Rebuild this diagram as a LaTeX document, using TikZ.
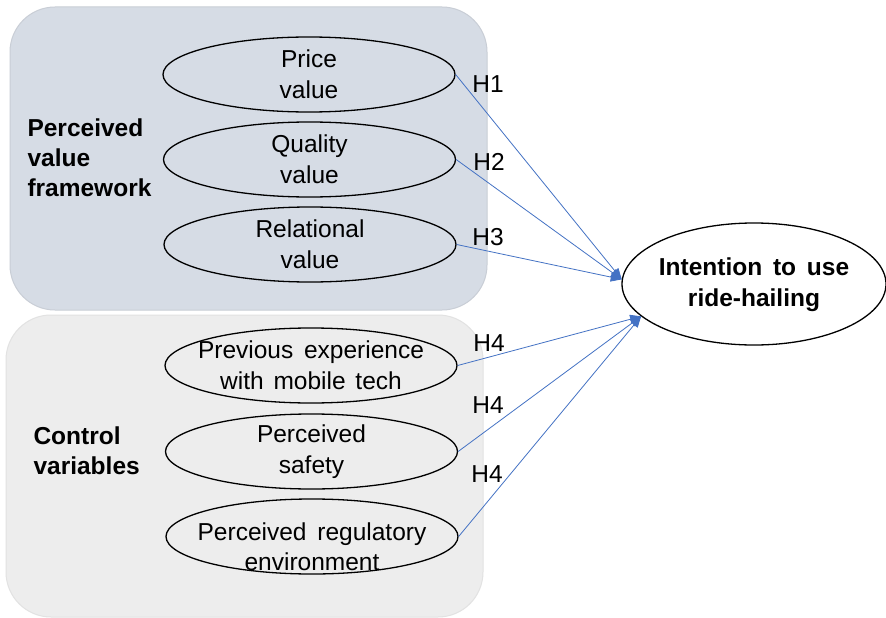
\documentclass[tikz,border=0pt]{standalone}
\usepackage{fontspec}
\setmainfont{Liberation Sans}
\usetikzlibrary{shapes.geometric,arrows.meta}
\definecolor{topfill}{HTML}{D6DCE5}
\definecolor{topdraw}{HTML}{C9CED6}
\definecolor{botfill}{HTML}{EDEDED}
\definecolor{botdraw}{HTML}{E2E2E2}
\definecolor{arrowblue}{HTML}{4472C4}
\begin{document}
\begin{tikzpicture}[x=1pt,y=-1pt,
  every node/.style={font=\fontsize{24.5pt}{31pt}\selectfont},
  groupbox/.style={rounded corners=45pt, line width=1pt},
  var/.style={ellipse, draw=black, line width=1.3pt, minimum width=292pt, minimum height=75pt, inner sep=0pt},
  vtext/.style={align=center, inner sep=0pt},
  outcome/.style={ellipse, draw=black, line width=1.3pt, minimum width=264pt, minimum height=122pt, inner sep=0pt},
  otext/.style={align=center, inner sep=0pt, font=\fontsize{24.5pt}{31pt}\selectfont\bfseries},
  grouplabel/.style={anchor=west, align=left, font=\fontsize{24.5pt}{30pt}\selectfont\bfseries},
  hyp/.style={draw=arrowblue, line width=0.8pt, -{Triangle[length=11pt,width=9pt]}},
  hlabel/.style={inner sep=0pt}
]
\useasboundingbox (0,0) rectangle (886,618);
\fill[white] (0,0) rectangle (886,618);
% group boxes
\draw[groupbox, fill=topfill, draw=topdraw] (10,7) rectangle (487,310);
\draw[groupbox, fill=botfill, draw=botdraw] (6,315) rectangle (483,617);
% group labels
\node[grouplabel] (pvf) at (24,158) {Perceived\\value\\framework};
\node[grouplabel] (cv) at (30,451) {Control\\variables};
% variables (shapes)
\node[var] (price) at (309,74.5) {};
\node[var] (quality) at (309.5,159.5) {};
\node[var] (relational) at (310,244.5) {};
\node[var] (previous) at (311,365.5) {};
\node[var] (safety) at (311.5,451.5) {};
\node[var] (regulatory) at (312,536.5) {};
% variable texts
\node[vtext] (price-t) at (price) {Price\\value};
\node[vtext] (quality-t) at (quality) {Quality\\value};
\node[vtext] (relational-t) at (relational) {Relational\\value};
\node[vtext] (previous-t) at (previous) {Previous\hspace{4pt} experience\\with\hspace{3pt} mobile\hspace{3pt} tech};
\node[vtext] (safety-t) at (safety) {Perceived\\safety};
\node[vtext, font=\fontsize{24.5pt}{30pt}\selectfont] (regulatory-t) at ([yshift=-10pt]regulatory.center) {Perceived\hspace{4pt} regulatory\\environment};
% outcome
\node[outcome] (intention) at (754,284) {};
\node[otext] (intention-t) at ([yshift=-1pt]intention.center) {Intention\hspace{4pt} to\hspace{4pt} use\\ride-hailing};
% connectors
\draw[hyp] (price.east) -- (intention.178);
\draw[hyp] (quality.east) -- (intention.178);
\draw[hyp] (relational.east) -- (intention.178);
\draw[hyp] (previous.east) -- (intention.196);
\draw[hyp] (safety.east) -- (intention.196);
\draw[hyp] (regulatory.east) -- (intention.196);
% hypothesis labels
\node[hlabel] (h1) at (488,84) {H1};
\node[hlabel] (h2) at (489,162) {H2};
\node[hlabel] (h3) at (488,237) {H3};
\node[hlabel] (h4a) at (489,343) {H4};
\node[hlabel] (h4b) at (488,405) {H4};
\node[hlabel] (h4c) at (487,474) {H4};
\end{tikzpicture}
\end{document}
